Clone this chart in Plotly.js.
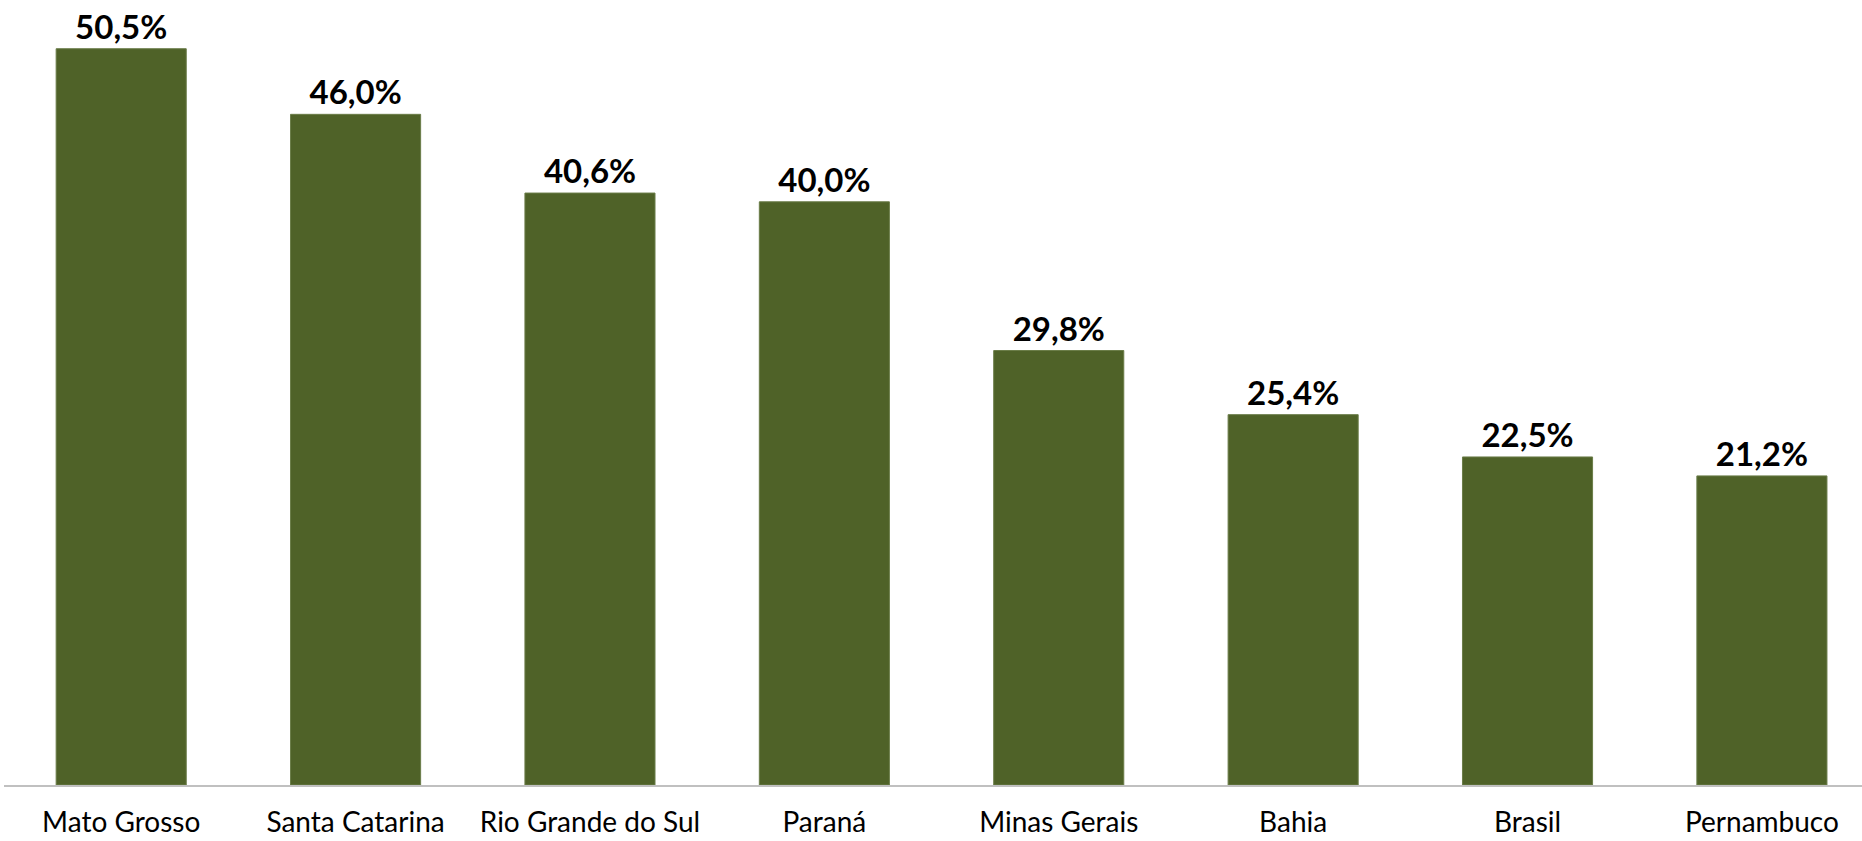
<!DOCTYPE html>
<html>
<head>
<meta charset="utf-8">
<script src="https://cdn.plot.ly/plotly-3.0.1.min.js"></script>
<style>
  html, body { margin: 0; padding: 0; background: #ffffff; }
  #chart { width: 1862px; height: 841px; }
</style>
</head>
<body>
<div id="chart"></div>
<script>
// Share by state
const states = ['Mato Grosso', 'Santa Catarina', 'Rio Grande do Sul', 'Paraná',
                'Minas Gerais', 'Bahia', 'Brasil', 'Pernambuco'];
const shares = [50.5, 46.0, 40.6, 40.0, 29.8, 25.4, 22.5, 21.2];

// Brazilian formatting: comma as decimal separator
const shareLabels = shares.map(v => v.toFixed(1).replace('.', ',') + '%');

const barColor = '#4f6228';
const fontFamily = 'Lato, "Open Sans", "DejaVu Sans", sans-serif';

const trace = {
    type: 'bar',
    x: states,
    y: shares,
    text: shareLabels,
    textposition: 'outside',
    cliponaxis: false,
    textfont: { family: fontFamily, size: 33, color: '#000000', weight: 'bold' },
    marker: { color: barColor, line: { color: '#6a7c48', width: 1 } },
    hoverinfo: 'x+text'
};

const layout = {
    width: 1862,
    height: 841,
    margin: { t: 20, b: 56, l: 4, r: 0 },
    paper_bgcolor: '#ffffff',
    plot_bgcolor: '#ffffff',
    showlegend: false,
    bargap: 0.445,
    font: { family: fontFamily, color: '#000000' },
    xaxis: {
        type: 'category',
        range: [-0.5, 7.427],
        showline: true,
        linecolor: '#c0c0c0',
        linewidth: 2,
        ticks: '',
        ticklabelstandoff: 11,
        tickfont: { family: fontFamily, size: 28, color: '#000000' },
        showgrid: false,
        zeroline: false
    },
    yaxis: {
        range: [0, 52.47],
        visible: false,
        showgrid: false,
        zeroline: false
    }
};

Plotly.newPlot('chart', [trace], layout, { displayModeBar: false, staticPlot: true });
</script>
</body>
</html>
